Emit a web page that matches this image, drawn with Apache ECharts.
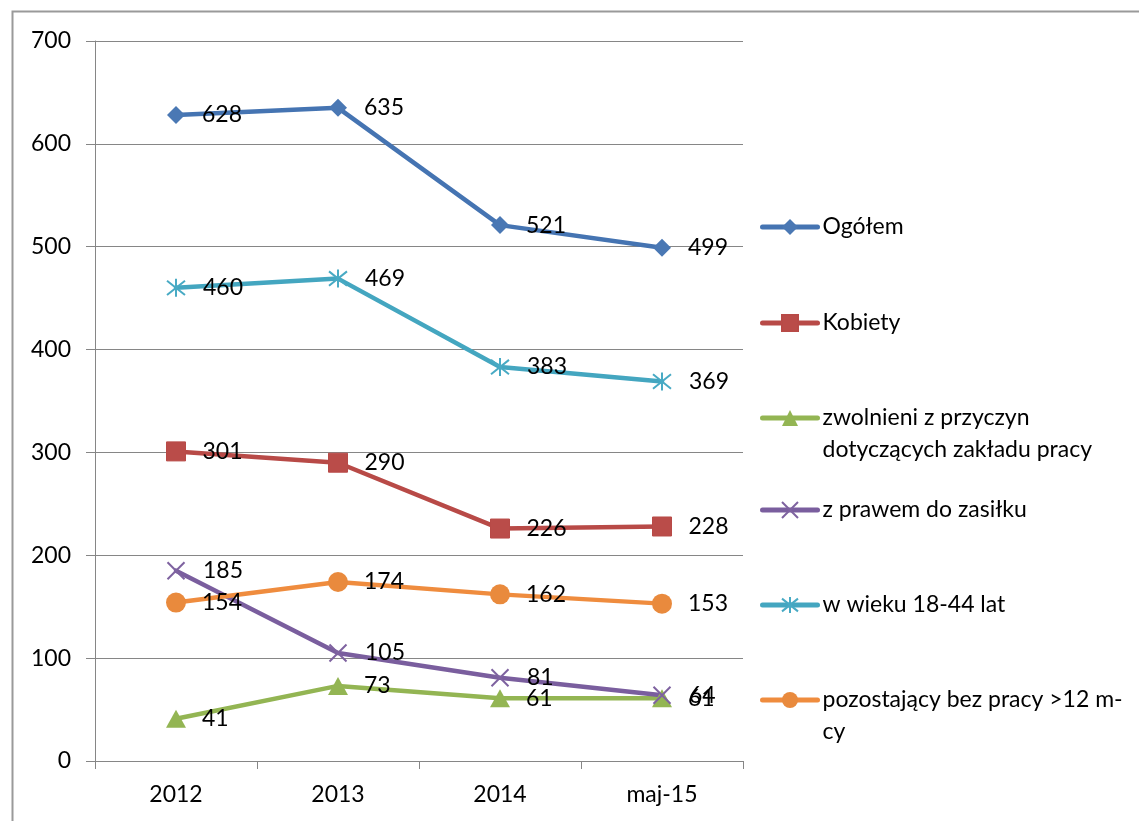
<!DOCTYPE html>
<html>
<head>
<meta charset="utf-8">
<script src="https://cdn.jsdelivr.net/npm/echarts@6/dist/echarts.min.js"></script>
<style>
html,body{margin:0;padding:0;background:#fff;}
#chart{width:1139px;height:821px;}
</style>
</head>
<body>
<div id="chart"></div>
<script>
const categories = ['2012', '2013', '2014', 'maj-15'];
const ogolem = [628, 635, 521, 499];
const kobiety = [301, 290, 226, 228];
const zwolnieni = [41, 73, 61, 61];
const zPrawem = [185, 105, 81, 64];
const wWieku = [460, 469, 383, 369];
const pozostajacy = [154, 174, 162, 153];
const yTicks = [0, 100, 200, 300, 400, 500, 600, 700];

const FONT = 'Lato';
const FS = 23;

const names = ['Ogółem', 'Kobiety', 'zwolnieni z przyczyn dotyczących zakładu pracy', 'z prawem do zasiłku', 'w wieku 18-44 lat', 'pozostający bez pracy >12 m-cy'];
const legendText = {
  'zwolnieni z przyczyn dotyczących zakładu pracy': ' \nzwolnieni z przyczyn\ndotyczących zakładu pracy',
  'pozostający bez pracy >12 m-cy': ' \npozostający bez pracy >12 m-\ncy'
};

function mkSeries(name, data, color, symbol, size, extra) {
  return Object.assign({
    name: name,
    type: 'line',
    data: data,
    symbol: symbol,
    symbolSize: size,
    showAllSymbol: true,
    lineStyle: { color: color, width: 4.5, cap: 'round' },
    itemStyle: { color: color },
    label: {
      show: true,
      position: 'right',
      distance: 26 - (Array.isArray(size) ? size[0] : size) / 2,
      color: '#000',
      fontFamily: FONT,
      fontSize: FS
    },
    emphasis: { disabled: true },
    animation: false
  }, extra || {});
}

const xPath = 'path://M0,0L10,10M10,0L0,10';
const starPath = 'path://M5,0L5,10M0,1L10,9M10,1L0,9';

const colors = ['#4574B2', '#B84A47', '#93B553', '#7A5E9E', '#44A6C0', '#EF8C3E'];
const series = [
  mkSeries(names[0], ogolem, colors[0], 'diamond', [18, 18], { itemStyle: { color: '#4A78B4' } }),
  mkSeries(names[1], kobiety, colors[1], 'rect', [19, 19], { itemStyle: { color: '#BA4C49', borderColor: '#B84A47', borderWidth: 1 } }),
  mkSeries(names[2], zwolnieni, colors[2], 'triangle', [20, 18], { itemStyle: { color: '#93B553' } }),
  mkSeries(names[3], zPrawem, colors[3], xPath, [17, 17], { itemStyle: { color: 'rgba(0,0,0,0)', borderColor: '#7E62A0', borderWidth: 2 } }),
  mkSeries(names[4], wWieku, colors[4], starPath, [18, 18], { itemStyle: { color: 'rgba(0,0,0,0)', borderColor: '#48AAC4', borderWidth: 2 } }),
  mkSeries(names[5], pozostajacy, colors[5], 'circle', [20, 20], { itemStyle: { color: '#E98A3D' } })
];

const legendCenters = [227, 323, 418, 510, 605, 700];
const legends = names.map((n, i) => {
  const twoLine = !!legendText[n];
  const top = legendCenters[i] - (twoLine ? 48 : 16);
  return {
    data: [n],
    orient: 'vertical',
    left: 760,
    top: top,
    padding: 0,
    itemWidth: 55,
    itemHeight: 20,
    selectedMode: false,
    lineStyle: { width: 5, cap: 'round' },
    formatter: function (name) { return legendText[name] || name; },
    textStyle: { fontFamily: FONT, fontSize: FS, color: '#000', lineHeight: 32 }
  };
});

const chart = echarts.init(document.getElementById('chart'));
chart.setOption({
  backgroundColor: '#fff',
  animation: false,
  graphic: [{
    type: 'rect',
    shape: { x: 12.5, y: 11.5, width: 1300, height: 1000 },
    style: { fill: 'none', stroke: '#9A9A9A', lineWidth: 2 },
    silent: true,
    z: -1
  }],
  grid: { left: 95, right: 396, top: 41, bottom: 60, containLabel: false },
  legend: legends,
  xAxis: {
    type: 'category',
    data: categories,
    boundaryGap: true,
    axisLine: { lineStyle: { color: '#868686', width: 1 } },
    axisTick: { show: true, length: 8, alignWithLabel: false, lineStyle: { color: '#868686' } },
    axisLabel: { color: '#000', fontFamily: FONT, fontSize: FS, margin: 22 },
    splitLine: { show: false }
  },
  yAxis: {
    type: 'value',
    min: yTicks[0],
    max: yTicks[yTicks.length - 1],
    interval: 100,
    axisLine: { show: true, lineStyle: { color: '#868686', width: 1 } },
    axisTick: { show: true, length: 9, lineStyle: { color: '#868686' } },
    axisLabel: { color: '#000', fontFamily: FONT, fontSize: FS, margin: 24 },
    splitLine: { show: true, lineStyle: { color: '#868686', width: 1 } }
  },
  series: series
});
</script>
</body>
</html>
